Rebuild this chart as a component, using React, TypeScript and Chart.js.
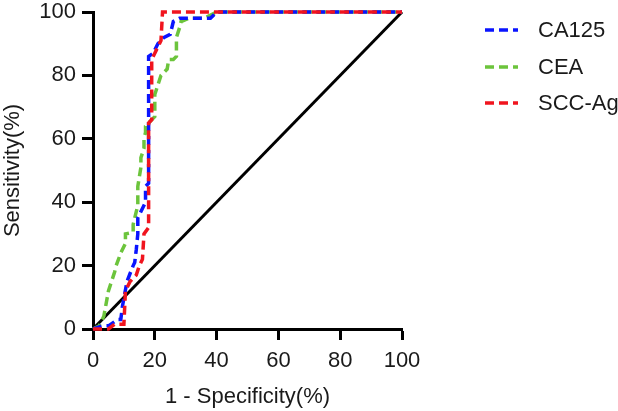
import React, { useEffect, useRef } from "react";
import { Chart, registerables } from "chart.js";

Chart.register(...registerables);

const xTicks = [0, 20, 40, 60, 80, 100];
const yTicks = [0, 20, 40, 60, 80, 100];

const seriesNames = ["CA125", "CEA", "SCC-Ag"];
const seriesColors = ["#0a14ff", "#6cc43c", "#f0141e"];

// 1 - Specificity (%) and Sensitivity (%) for each ROC curve
const ca125X = [0, 3, 5, 8, 9, 9.5, 11, 13, 13.5, 14, 14.5, 14.5, 16, 17, 17, 18, 18, 19.5, 21, 23, 25, 26, 28, 38, 40, 100];
const ca125Y = [0, 1, 1, 3, 3, 7, 15, 20, 21, 25, 30, 35, 38, 40, 45, 46, 86, 87, 90, 92, 93, 97, 98, 98, 100, 100];

const ceaX = [0, 2, 3.5, 5, 6, 7, 7.5, 9, 10.5, 10.5, 13, 13, 14, 14.5, 14.5, 15, 15.5, 15.5, 16.5, 16.5, 17, 17, 19, 20, 20, 21, 22, 24, 24.5, 26, 27, 27, 28, 28.5, 31, 36, 40, 100];
const ceaY = [0, 1, 4, 12, 15, 18, 20, 24, 27, 30, 30.5, 33, 37, 39, 45, 48, 51, 54, 57, 60, 62, 64, 66, 67, 74, 77, 80, 82, 85, 85, 86, 92, 95, 97, 98, 98, 100, 100];

const sccX = [0, 5, 7, 10, 10.5, 12, 14, 15, 16, 16.5, 18, 18, 19, 19, 20, 22, 22.5, 100];
const sccY = [0, 0, 1.5, 1.5, 12, 15, 17, 20, 22, 30, 32, 65, 66, 85, 87, 91, 100, 100];

const refX = [0, 100];
const refY = [0, 100];

const FONT = "Arial, 'Liberation Sans', sans-serif";
const FS = 22;

function pts(xs: number[], ys: number[]) {
  return xs.map((x, i) => ({ x, y: ys[i] }));
}

export default function App() {
  const ref = useRef<HTMLCanvasElement>(null);

  useEffect(() => {
    if (!ref.current) return;

    const legendPlugin = {
      id: "customLegend",
      afterDraw(chart: any) {
        const ctx = chart.ctx;
        const area = chart.chartArea;
        ctx.save();
        const x0 = area.right + 83;
        const rows = [30, 67, 103];
        seriesNames.forEach((name, i) => {
          const y = rows[i];
          ctx.strokeStyle = seriesColors[i];
          ctx.lineWidth = 3.5;
          ctx.setLineDash([9, 5]);
          ctx.beginPath();
          ctx.moveTo(x0, y);
          ctx.lineTo(x0 + 33, y);
          ctx.stroke();
          ctx.setLineDash([]);
          ctx.fillStyle = "#1a1a1a";
          ctx.font = `${FS}px ${FONT}`;
          ctx.textBaseline = "middle";
          ctx.textAlign = "left";
          ctx.fillText(name, x0 + 53, y + 1);
        });
        ctx.restore();
      },
    };

    const mk = (xs: number[], ys: number[], i: number, order: number) => ({
      label: seriesNames[i],
      data: pts(xs, ys),
      borderColor: seriesColors[i],
      backgroundColor: seriesColors[i],
      borderWidth: 3.5,
      borderDash: [9, 5],
      pointRadius: 0,
      tension: 0,
      fill: false,
      clip: 6,
      order,
    });

    const chart = new Chart(ref.current, {
      type: "line",
      data: {
        datasets: [
          mk(ca125X, ca125Y, 0, 1),
          mk(ceaX, ceaY, 1, 2),
          mk(sccX, sccY, 2, 0),
          {
            label: "ref",
            data: pts(refX, refY),
            borderColor: "#000000",
            borderWidth: 3,
            pointRadius: 0,
            tension: 0,
            fill: false,
            clip: 6,
            order: 3,
          } as any,
        ],
      },
      options: {
        animation: false,
        responsive: true,
        maintainAspectRatio: false,
        layout: { padding: { left: 0, top: 12, right: 216, bottom: 0 } },
        plugins: {
          legend: { display: false },
          tooltip: { enabled: false },
        },
        scales: {
          x: {
            type: "linear",
            min: 0,
            max: 100,
            afterBuildTicks: (s: any) => {
              s.ticks = xTicks.map((v) => ({ value: v }));
            },
            afterFit: (s: any) => {
              s.height = 82;
              s.paddingLeft = 0;
              s.paddingRight = 0;
            },
            grid: {
              display: true,
              drawOnChartArea: false,
              drawTicks: true,
              tickLength: 11,
              tickWidth: 3,
              tickColor: "#000",
            },
            border: { display: true, color: "#000", width: 3 },
            ticks: {
              color: "#1a1a1a",
              font: { family: FONT, size: FS },
              padding: 8,
              maxRotation: 0,
            },
            title: {
              display: true,
              text: "1 - Specificity(%)",
              color: "#1a1a1a",
              font: { family: FONT, size: FS },
              padding: { top: 0, bottom: 1 },
            },
          },
          y: {
            type: "linear",
            min: 0,
            max: 100,
            afterBuildTicks: (s: any) => {
              s.ticks = yTicks.map((v) => ({ value: v }));
            },
            afterFit: (s: any) => {
              s.width = 93;
              s.paddingTop = 0;
              s.paddingBottom = 0;
            },
            grid: {
              display: true,
              drawOnChartArea: false,
              drawTicks: true,
              tickLength: 11,
              tickWidth: 3,
              tickColor: "#000",
            },
            border: { display: true, color: "#000", width: 3 },
            ticks: {
              color: "#1a1a1a",
              font: { family: FONT, size: FS },
              padding: 6,
            },
            title: {
              display: true,
              text: "Sensitivity(%)",
              color: "#1a1a1a",
              font: { family: FONT, size: FS },
              padding: { top: 0, bottom: 0 },
            },
          },
        },
      },
      plugins: [legendPlugin],
    } as any);

    return () => chart.destroy();
  }, []);

  return (
    <div
      style={{
        position: "fixed",
        left: 0,
        top: 0,
        width: 618,
        height: 411,
        background: "#fff",
      }}
    >
      <canvas ref={ref} />
    </div>
  );
}
